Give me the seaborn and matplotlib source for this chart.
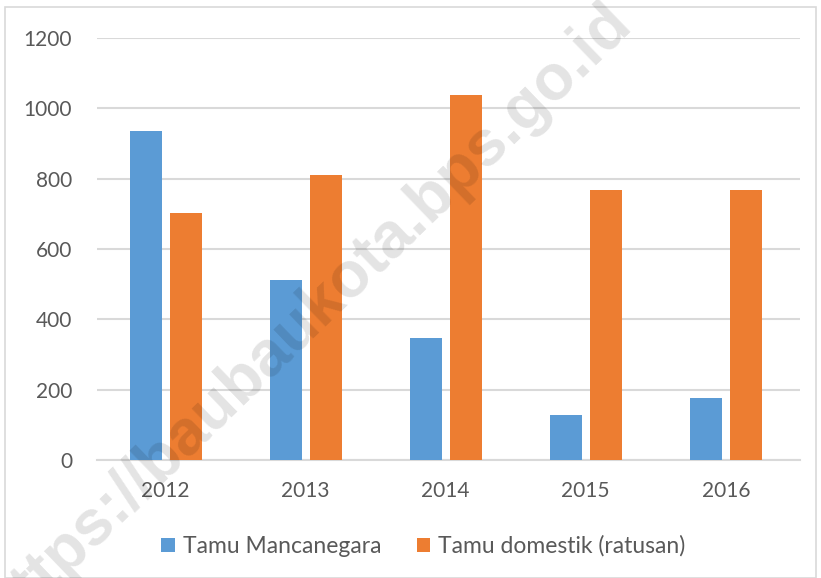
import matplotlib
matplotlib.use("Agg")
import matplotlib.pyplot as plt
import seaborn as sns
import pandas as pd
from matplotlib.patches import Rectangle

years = ["2012", "2013", "2014", "2015", "2016"]
mancanegara = [935, 512, 347, 127, 176]
domestik = [702, 810, 1038, 768, 768]
series_names = ["Tamu Mancanegara", "Tamu domestik (ratusan)"]
colors = ["#5B9BD5", "#ED7D31"]
yticks = [0, 200, 400, 600, 800, 1000, 1200]

df = pd.DataFrame({
    "Tahun": years * 2,
    "Nilai": mancanegara + domestik,
    "Seri": [series_names[0]] * len(years) + [series_names[1]] * len(years),
})

sns.set_theme(style="white")
plt.rcParams["font.family"] = ["Lato", "DejaVu Sans"]

fig = plt.figure(figsize=(8.21, 5.78), dpi=100)
ax = fig.add_axes([97 / 821, 1 - 460 / 578, (800 - 97) / 821, (460 - 38) / 578])

sns.barplot(data=df, x="Tahun", y="Nilai", hue="Seri", palette=colors,
            saturation=1, width=0.571, gap=0.2, linewidth=0, ax=ax, zorder=3)

ax.set_ylim(0, 1200)
ax.set_xlim(-0.49, 4.53)
ax.set_yticks(yticks)
ax.set_yticklabels([str(v) for v in yticks])
ax.yaxis.grid(True, color="#D9D9D9", linewidth=1.5, zorder=0)
ax.set_axisbelow(True)
for s in ["top", "right", "left"]:
    ax.spines[s].set_visible(False)
ax.spines["bottom"].set_color("#D9D9D9")
ax.spines["bottom"].set_linewidth(1.5)
ax.tick_params(axis="both", length=0, labelsize=15, colors="#595959")
ax.tick_params(axis="x", pad=15)
ax.tick_params(axis="y", pad=18)
ax.set_xlabel("")
ax.set_ylabel("")

leg = ax.legend(loc="upper center", bbox_to_anchor=(0.464, -0.13), ncol=2,
                frameon=False, fontsize=16.5, handlelength=0.6, handleheight=0.6,
                handletextpad=0.35, columnspacing=1.55)
for t in leg.get_texts():
    t.set_color("#595959")

# chart area border
fig.patches.append(Rectangle((5 / 821, 0), 1 - 10 / 821, 1 - 7 / 578,
                             transform=fig.transFigure, fill=False,
                             edgecolor="#D9D9D9", linewidth=1.2))

# watermark
fig.text(308 / 821, 1 - 316 / 578, "https://baubaukota.bps.go.id",
         fontsize=46, fontweight="bold", color="black", alpha=0.11,
         rotation=44, ha="center", va="center", family="Liberation Sans", zorder=10)

fig.savefig("out.png", dpi=100)
